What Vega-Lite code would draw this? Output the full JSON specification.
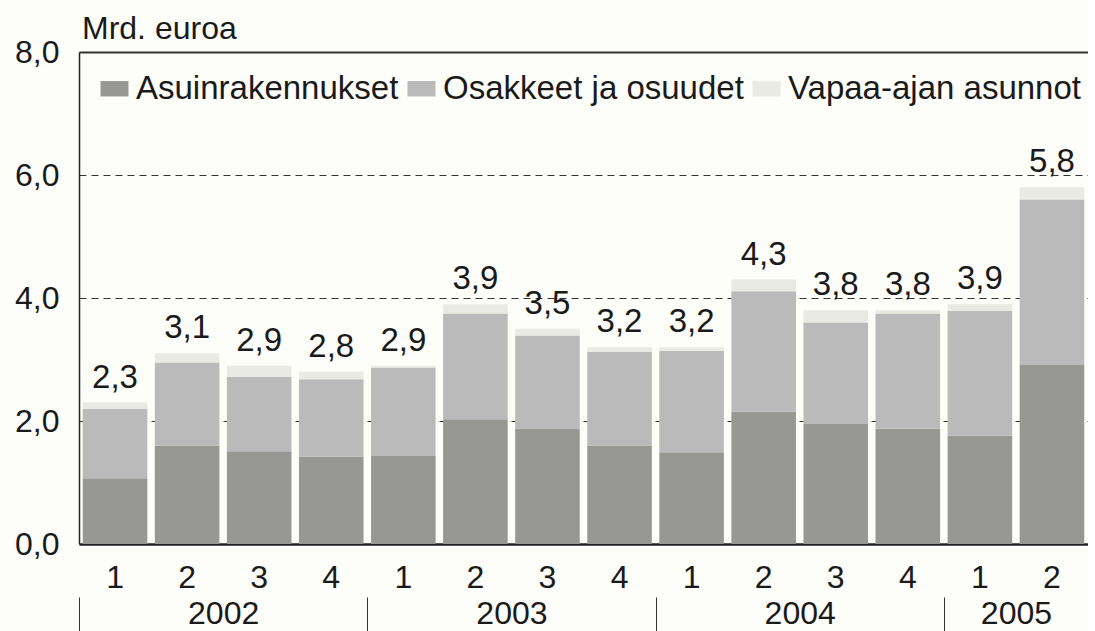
{
  "$schema": "https://vega.github.io/schema/vega-lite/v6.json",
  "width": 1009,
  "height": 492,
  "padding": {"left": 14, "top": 13, "right": 0, "bottom": 0},
  "background": "#fdfdf9",
  "title": {"text": "Mrd. euroa", "anchor": "start", "frame": "group", "fontSize": 32, "fontWeight": "normal", "font": "Liberation Sans", "color": "#1a1a1a", "offset": -10, "dx": 3},
  "data": {"values": [
    {"period": "2002-1", "seg": "Asuinrakennukset", "value": 1.07},
    {"period": "2002-1", "seg": "Osakkeet ja osuudet", "value": 1.13},
    {"period": "2002-1", "seg": "Vapaa-ajan asunnot", "value": 0.10},
    {"period": "2002-2", "seg": "Asuinrakennukset", "value": 1.60},
    {"period": "2002-2", "seg": "Osakkeet ja osuudet", "value": 1.35},
    {"period": "2002-2", "seg": "Vapaa-ajan asunnot", "value": 0.15},
    {"period": "2002-3", "seg": "Asuinrakennukset", "value": 1.51},
    {"period": "2002-3", "seg": "Osakkeet ja osuudet", "value": 1.21},
    {"period": "2002-3", "seg": "Vapaa-ajan asunnot", "value": 0.18},
    {"period": "2002-4", "seg": "Asuinrakennukset", "value": 1.42},
    {"period": "2002-4", "seg": "Osakkeet ja osuudet", "value": 1.26},
    {"period": "2002-4", "seg": "Vapaa-ajan asunnot", "value": 0.12},
    {"period": "2003-1", "seg": "Asuinrakennukset", "value": 1.43},
    {"period": "2003-1", "seg": "Osakkeet ja osuudet", "value": 1.44},
    {"period": "2003-1", "seg": "Vapaa-ajan asunnot", "value": 0.03},
    {"period": "2003-2", "seg": "Asuinrakennukset", "value": 2.03},
    {"period": "2003-2", "seg": "Osakkeet ja osuudet", "value": 1.72},
    {"period": "2003-2", "seg": "Vapaa-ajan asunnot", "value": 0.15},
    {"period": "2003-3", "seg": "Asuinrakennukset", "value": 1.88},
    {"period": "2003-3", "seg": "Osakkeet ja osuudet", "value": 1.51},
    {"period": "2003-3", "seg": "Vapaa-ajan asunnot", "value": 0.11},
    {"period": "2003-4", "seg": "Asuinrakennukset", "value": 1.60},
    {"period": "2003-4", "seg": "Osakkeet ja osuudet", "value": 1.52},
    {"period": "2003-4", "seg": "Vapaa-ajan asunnot", "value": 0.08},
    {"period": "2004-1", "seg": "Asuinrakennukset", "value": 1.49},
    {"period": "2004-1", "seg": "Osakkeet ja osuudet", "value": 1.65},
    {"period": "2004-1", "seg": "Vapaa-ajan asunnot", "value": 0.06},
    {"period": "2004-2", "seg": "Asuinrakennukset", "value": 2.15},
    {"period": "2004-2", "seg": "Osakkeet ja osuudet", "value": 1.96},
    {"period": "2004-2", "seg": "Vapaa-ajan asunnot", "value": 0.19},
    {"period": "2004-3", "seg": "Asuinrakennukset", "value": 1.95},
    {"period": "2004-3", "seg": "Osakkeet ja osuudet", "value": 1.65},
    {"period": "2004-3", "seg": "Vapaa-ajan asunnot", "value": 0.20},
    {"period": "2004-4", "seg": "Asuinrakennukset", "value": 1.875},
    {"period": "2004-4", "seg": "Osakkeet ja osuudet", "value": 1.875},
    {"period": "2004-4", "seg": "Vapaa-ajan asunnot", "value": 0.05},
    {"period": "2005-1", "seg": "Asuinrakennukset", "value": 1.76},
    {"period": "2005-1", "seg": "Osakkeet ja osuudet", "value": 2.03},
    {"period": "2005-1", "seg": "Vapaa-ajan asunnot", "value": 0.11},
    {"period": "2005-2", "seg": "Asuinrakennukset", "value": 2.91},
    {"period": "2005-2", "seg": "Osakkeet ja osuudet", "value": 2.69},
    {"period": "2005-2", "seg": "Vapaa-ajan asunnot", "value": 0.20}
  ]},
  "layer": [
    {
      "layer": [
        {
          "mark": {"type": "bar"},
          "encoding": {
            "x": {"field": "period", "type": "nominal", "sort": null,
              "scale": {"paddingInner": 0.104, "paddingOuter": 0.052},
              "axis": {"title": null, "labelExpr": "split(datum.value, '-')[1]", "labelAngle": 0, "ticks": false, "labelPadding": 18, "labelFontSize": 32, "labelFont": "Liberation Sans", "labelColor": "#1a1a1a", "domainColor": "#222222", "domainWidth": 2.5, "grid": false}},
            "y": {"field": "value", "type": "quantitative", "stack": "zero",
              "scale": {"domain": [0, 8], "nice": false},
              "axis": {"title": null, "values": [0, 2, 4, 6, 8], "labelExpr": "replace(format(datum.value, '.1f'), '.', ',')", "ticks": false, "labelPadding": 20, "labelFontSize": 32, "labelFont": "Liberation Sans", "labelColor": "#1a1a1a", "domainColor": "#222222", "domainWidth": 1.5,
                "grid": true,
                "gridColor": "#333333",
                "gridDash": {"condition": {"test": "datum.value == 8", "value": []}, "value": [7, 5]},
                "gridWidth": {"condition": {"test": "datum.value == 8", "value": 2}, "value": 1},
                "gridOpacity": {"condition": {"test": "datum.value == 0", "value": 0}, "value": 1}}},
            "color": {"field": "seg", "type": "nominal",
              "scale": {"domain": ["Asuinrakennukset", "Osakkeet ja osuudet", "Vapaa-ajan asunnot"], "range": ["#979794", "#bababa", "#eaeae4"]},
              "legend": {"orient": "none", "legendX": 19, "legendY": 20, "direction": "horizontal", "title": null, "symbolType": "M-1,-0.55H1V0.55H-1Z", "symbolSize": 784, "symbolStrokeWidth": 0, "labelFontSize": 33, "labelFont": "Liberation Sans", "labelColor": "#1a1a1a", "labelOffset": 5, "columnPadding": 6, "padding": 0, "labelLimit": 0}},
            "order": {"field": "seg", "sort": "ascending"}
          }
        },
        {
          "mark": {"type": "text", "dy": -15, "baseline": "alphabetic", "fontSize": 33, "font": "Liberation Sans", "color": "#1a1a1a"},
          "encoding": {
            "x": {"field": "period", "type": "nominal", "sort": null},
            "y": {"aggregate": "sum", "field": "value", "type": "quantitative"},
            "text": {"aggregate": "sum", "field": "value", "type": "quantitative", "format": ".1f"}
          }
        }
      ]
    },
    {
      "mark": {"type": "rule", "opacity": 0},
      "encoding": {
        "x": {"datum": 0, "type": "quantitative",
          "scale": {"domain": [0, 14], "nice": false, "zero": false},
          "axis": {"orient": "bottom", "offset": 53, "title": null, "values": [0, 2, 4, 6, 8, 10, 12, 13],
            "labelExpr": "datum.value == 2 ? '2002' : datum.value == 6 ? '2003' : datum.value == 10 ? '2004' : datum.value == 13 ? '2005' : ''",
            "tickSize": 34, "tickColor": "#333333", "tickWidth": 1,
            "tickOpacity": {"condition": {"test": "datum.value == 0 || datum.value == 4 || datum.value == 8 || datum.value == 12", "value": 1}, "value": 0},
            "domain": false, "grid": false, "labelPadding": -33, "labelBaseline": "top", "labelFontSize": 32, "labelFont": "Liberation Sans", "labelColor": "#1a1a1a", "labelOverlap": false, "labelFlush": false, "labelBound": false}}
      }
    }
  ],
  "resolve": {"scale": {"x": "independent"}, "axis": {"x": "independent"}},
  "config": {
    "locale": {"number": {"decimal": ",", "thousands": " ", "grouping": [3], "currency": ["", " €"]}},
    "view": {"stroke": null},
    "font": "Liberation Sans"
  }
}
